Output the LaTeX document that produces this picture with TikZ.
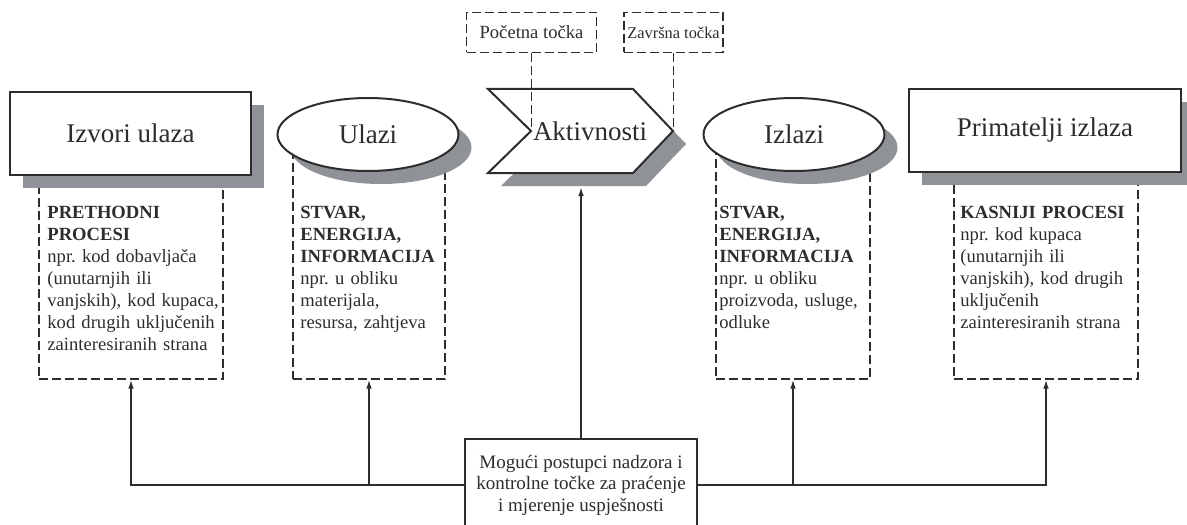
\documentclass[tikz,border=0pt]{standalone}
\usepackage{fontspec}
\setmainfont{Liberation Serif}
\usetikzlibrary{shapes.geometric,shadows,arrows.meta}
\definecolor{shadowgray}{RGB}{143,146,151}
\definecolor{inkgray}{RGB}{45,45,45}
\frenchspacing

\begin{document}
\begin{tikzpicture}[x=0.5pt,y=-0.5pt,
	headbox/.style={draw=inkgray,line width=1pt,fill=white,text=inkgray,font=\fontsize{13.5}{16}\selectfont,inner sep=0,drop shadow={shadow xshift=6.5pt,shadow yshift=-6.5pt,opacity=1,fill=shadowgray}},
	dashbox/.style={draw=inkgray,line width=0.6pt,dash pattern=on 4.5pt off 2pt,inner sep=0},
	pointbox/.style={dashbox,text=inkgray,inner sep=1pt},
	dashlink/.style={draw=inkgray,line width=0.6pt,dash pattern=on 4.5pt off 2pt},
	desc/.style={text=inkgray,font=\fontsize{9.3}{11}\selectfont,text width=90pt,align=left,inner sep=0,anchor=base west},
	arr/.style={draw=inkgray,line width=0.8pt,-{Latex[length=4.5pt,width=2.8pt]}}]
	\useasboundingbox (0,0) rectangle (1187,524);
	\node[dashbox,minimum width=92pt,minimum height=99.5pt] (izvorif) at (131,279.5) {};
	\node[dashbox,minimum width=76pt,minimum height=114.5pt] (ulazif) at (369,264.5) {};
	\node[dashbox,minimum width=77pt,minimum height=114.5pt] (izlazif) at (793,264.5) {};
	\node[dashbox,minimum width=92pt,minimum height=99.5pt] (primf) at (1046,279.5) {};
	\node[headbox,minimum width=120.5pt,minimum height=41.5pt] (izvori) at (130.5,133.5) {Izvori ulaza};
	\node[headbox,ellipse,minimum width=90.5pt,minimum height=36.5pt] (ulazi) at (368,134.5) {Ulazi};
	\draw[headbox] (488,89) -- (633,89) -- (673,131) -- (633,173) -- (488,173) -- (531,131) -- cycle;
	\node[text=inkgray,font=\fontsize{13.5}{16}\selectfont,inner sep=0] (akt) at (590,131) {Aktivnosti};
	\node[headbox,ellipse,minimum width=90.5pt,minimum height=36.5pt] (izlazi) at (794,134.5) {Izlazi};
	\node[headbox,minimum width=136pt,minimum height=41.5pt] (prim) at (1045,130.5) {Primatelji izlaza};
	\coordinate (notch) at (531,131);
	\coordinate (tip) at (673,131);
	\coordinate (aktbase) at (581,187);
	\node[pointbox,minimum width=65pt,minimum height=20pt,font=\fontsize{9.3}{11}\selectfont] (pocetna) at (531.5,32.5) {Početna točka};
	\node[pointbox,minimum width=49.5pt,minimum height=20pt,font=\fontsize{8.2}{10}\selectfont] (zavrsna) at (673.5,32.5) {Završna točka};
	\draw[dashlink] (pocetna.south) -- (pocetna.south |- notch);
	\draw[dashlink] (zavrsna.south) -- (zavrsna.south |- tip);
	\node[desc] (izvorit) at (47,218) {\textbf{PRETHODNI}\\\textbf{PROCESI}\\npr. kod dobavljača\\(unutarnjih ili\\vanjskih), kod kupaca,\\kod drugih uključenih\\zainteresiranih strana};
	\node[desc] (ulazit) at (300,218) {\textbf{STVAR,}\\\textbf{ENERGIJA,}\\\textbf{INFORMACIJA}\\npr. u obliku\\materijala,\\resursa, zahtjeva};
	\node[desc] (izlazit) at (719,218) {\textbf{STVAR,}\\\textbf{ENERGIJA,}\\\textbf{INFORMACIJA}\\npr. u obliku\\proizvoda, usluge,\\odluke};
	\node[desc] (primt) at (960,218) {\textbf{KASNIJI PROCESI}\\npr. kod kupaca\\(unutarnjih ili\\vanjskih), kod drugih\\uključenih\\zainteresiranih strana};
	\node[draw=inkgray,line width=1pt,fill=white,text=inkgray,font=\fontsize{9.5}{10.75}\selectfont,align=center,minimum width=116pt,minimum height=46pt,inner sep=0] (ctrl) at (581,485) {Mogući postupci nadzora i\\kontrolne točke za praćenje\\i mjerenje uspješnosti};
	\draw[arr] (ctrl.west) -| (izvorif.south);
	\draw[arr] (ctrl.west) -| (ulazif.south);
	\draw[arr] (ctrl.north) -- (aktbase);
	\draw[arr] (ctrl.east) -| (izlazif.south);
	\draw[arr] (ctrl.east) -| (primf.south);
\end{tikzpicture}
\end{document}
